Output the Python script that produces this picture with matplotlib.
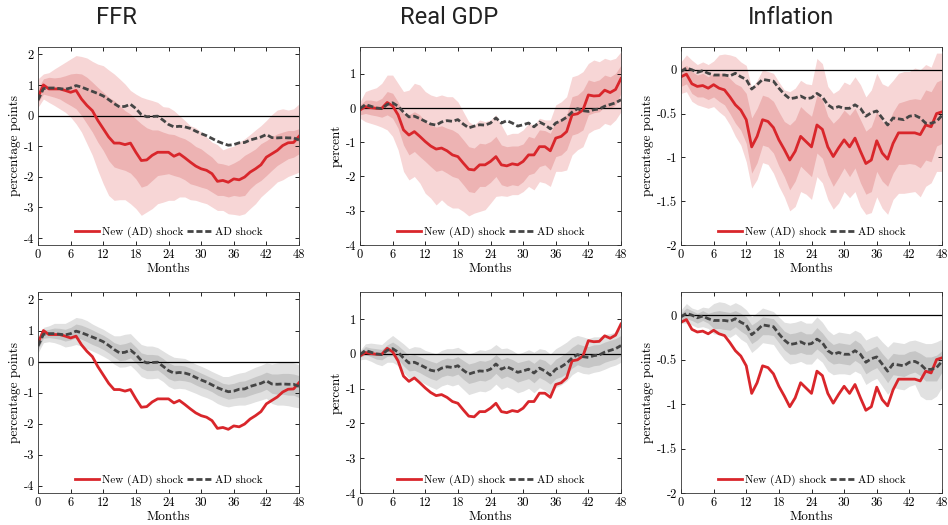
import numpy as np
import matplotlib
matplotlib.use("Agg")
import matplotlib.pyplot as plt
from matplotlib.ticker import FormatStrFormatter

plt.rcParams['font.family'] = ['cmr10', 'DejaVu Serif']
plt.rcParams['axes.unicode_minus'] = False
plt.rcParams['mathtext.fontset'] = 'cm'

months = np.arange(49)

# ---------------- FFR ----------------
ffr_new = [0.6, 1.0, 0.87, 0.87, 0.87, 0.82, 0.76, 0.82, 0.54, 0.33,
           0.16, -0.16, -0.43, -0.7, -0.9, -0.9, -0.95, -0.9, -1.2, -1.47,
           -1.45, -1.3, -1.2, -1.2, -1.2, -1.33, -1.25, -1.38, -1.52, -1.65,
           -1.74, -1.79, -1.9, -2.15, -2.12, -2.18, -2.07, -2.1, -2.01, -1.85,
           -1.74, -1.61, -1.36, -1.25, -1.14, -0.98, -0.89, -0.88, -0.68]
ffr_ad = [0.5, 0.88, 0.9, 0.9, 0.88, 0.86, 0.9, 0.98, 0.93, 0.86,
          0.79, 0.72, 0.64, 0.52, 0.39, 0.28, 0.3, 0.37, 0.23, 0.03,
          -0.04, -0.03, -0.02, -0.15, -0.29, -0.37, -0.35, -0.37, -0.42, -0.51,
          -0.59, -0.66, -0.75, -0.84, -0.91, -0.97, -0.95, -0.89, -0.88, -0.8,
          -0.75, -0.7, -0.62, -0.72, -0.73, -0.72, -0.73, -0.73, -0.8]
ffr_new_hi90 = [1.2, 1.36, 1.4, 1.52, 1.63, 1.74, 1.85, 1.96, 1.93, 1.88,
                1.77, 1.68, 1.63, 1.49, 1.36, 1.2, 1.03, 0.82, 0.7, 0.6,
                0.54, 0.49, 0.43, 0.29, 0.27, 0.16, 0.0, -0.16, -0.33, -0.4,
                -0.54, -0.7, -0.87, -0.95, -1.12, -1.05, -1.0, -0.87, -0.76, -0.62,
                -0.47, -0.33, -0.16, 0.03, 0.18, 0.22, 0.18, 0.22, 0.38]
ffr_new_hi68 = [0.9, 1.2, 1.25, 1.23, 1.25, 1.3, 1.36, 1.38, 1.36, 1.25,
                1.09, 0.92, 0.76, 0.6, 0.49, 0.33, 0.16, 0.05, -0.11, -0.27,
                -0.4, -0.47, -0.47, -0.54, -0.6, -0.62, -0.7, -0.76, -0.87, -1.01,
                -1.09, -1.23, -1.36, -1.55, -1.58, -1.63, -1.55, -1.45, -1.3, -1.2,
                -1.09, -0.92, -0.82, -0.7, -0.6, -0.54, -0.49, -0.49, -0.43]
ffr_new_lo68 = [0.43, 0.7, 0.65, 0.6, 0.54, 0.43, 0.33, 0.22, 0.0, -0.27,
                -0.54, -0.87, -1.14, -1.47, -1.68, -1.74, -1.79, -1.88, -2.07, -2.34,
                -2.28, -2.12, -1.96, -1.93, -1.9, -1.96, -2.01, -2.1, -2.23, -2.28,
                -2.34, -2.39, -2.5, -2.61, -2.61, -2.66, -2.61, -2.64, -2.61, -2.39,
                -2.23, -2.12, -1.96, -1.79, -1.63, -1.52, -1.41, -1.36, -1.25]
ffr_new_lo90 = [0.27, 0.54, 0.43, 0.33, 0.22, 0.11, -0.05, -0.27, -0.54, -0.92,
                -1.3, -1.79, -2.23, -2.61, -2.77, -2.75, -2.75, -2.88, -3.04, -3.26,
                -3.15, -3.04, -2.88, -2.83, -2.77, -2.77, -2.66, -2.66, -2.75, -2.77,
                -2.83, -2.88, -2.99, -3.1, -3.1, -3.21, -3.23, -3.26, -3.21, -3.04,
                -2.88, -2.66, -2.5, -2.34, -2.17, -2.1, -1.99, -1.92, -1.85]
ffr_ad_hi90 = [0.7, 1.1, 1.15, 1.23, 1.23, 1.23, 1.32, 1.42, 1.39, 1.32,
               1.21, 1.12, 1.04, 0.93, 0.83, 0.83, 0.88, 0.9, 0.72, 0.55,
               0.5, 0.5, 0.45, 0.34, 0.23, 0.14, 0.12, 0.1, 0.01, -0.08,
               -0.15, -0.23, -0.32, -0.4, -0.48, -0.48, -0.42, -0.37, -0.34, -0.26,
               -0.18, -0.12, -0.04, -0.08, -0.04, -0.01, -0.01, -0.04, -0.1]
ffr_ad_hi68 = [0.6, 1.01, 1.04, 1.08, 1.07, 1.04, 1.1, 1.21, 1.17, 1.1,
               1.02, 0.93, 0.85, 0.74, 0.61, 0.55, 0.58, 0.64, 0.47, 0.28,
               0.23, 0.23, 0.21, 0.1, -0.04, -0.12, -0.12, -0.14, -0.21, -0.29,
               -0.37, -0.45, -0.53, -0.61, -0.7, -0.73, -0.7, -0.64, -0.62, -0.55,
               -0.48, -0.42, -0.34, -0.4, -0.4, -0.38, -0.38, -0.4, -0.45]
ffr_ad_lo68 = [0.39, 0.75, 0.77, 0.75, 0.72, 0.66, 0.7, 0.77, 0.72, 0.64,
               0.55, 0.48, 0.39, 0.28, 0.15, 0.03, 0.05, 0.12, -0.04, -0.21,
               -0.29, -0.29, -0.27, -0.4, -0.55, -0.62, -0.6, -0.62, -0.66, -0.75,
               -0.83, -0.89, -0.97, -1.08, -1.15, -1.21, -1.18, -1.15, -1.14, -1.08,
               -1.02, -0.97, -0.89, -1.02, -1.05, -1.05, -1.08, -1.08, -1.16]
ffr_ad_lo90 = [0.28, 0.61, 0.64, 0.61, 0.55, 0.47, 0.5, 0.55, 0.5, 0.42,
               0.34, 0.26, 0.17, 0.07, -0.08, -0.18, -0.17, -0.12, -0.29, -0.48,
               -0.55, -0.55, -0.53, -0.64, -0.8, -0.88, -0.86, -0.88, -0.95, -1.02,
               -1.1, -1.16, -1.24, -1.35, -1.42, -1.46, -1.42, -1.4, -1.4, -1.35,
               -1.29, -1.24, -1.18, -1.35, -1.4, -1.4, -1.42, -1.46, -1.49]

# ---------------- Real GDP ----------------
gdp_new = [-0.06, 0.04, 0.01, -0.01, -0.01, 0.16, 0.06, -0.2, -0.64, -0.79,
           -0.69, -0.83, -0.98, -1.11, -1.2, -1.17, -1.25, -1.37, -1.42, -1.61,
           -1.79, -1.81, -1.66, -1.66, -1.56, -1.42, -1.66, -1.69, -1.63, -1.66,
           -1.56, -1.37, -1.37, -1.13, -1.13, -1.25, -0.88, -0.83, -0.69, -0.2,
           -0.17, -0.06, 0.38, 0.35, 0.36, 0.52, 0.45, 0.54, 0.86]
gdp_ad = [-0.02, 0.1, 0.05, 0.0, -0.02, 0.1, 0.15, 0.05, -0.12, -0.26,
          -0.24, -0.31, -0.39, -0.47, -0.5, -0.41, -0.37, -0.39, -0.34, -0.47,
          -0.58, -0.53, -0.49, -0.5, -0.44, -0.29, -0.44, -0.37, -0.44, -0.53,
          -0.49, -0.44, -0.55, -0.41, -0.49, -0.61, -0.44, -0.37, -0.27, -0.12,
          -0.02, -0.08, -0.1, -0.05, -0.03, 0.05, 0.1, 0.15, 0.24]
gdp_new_hi90 = [0.18, 0.48, 0.54, 0.59, 0.72, 0.96, 0.96, 0.72, 0.48, 0.52,
                0.72, 0.67, 0.48, 0.38, 0.33, 0.38, 0.33, 0.33, 0.18, -0.11,
                -0.4, -0.5, -0.35, -0.4, -0.35, -0.2, -0.5, -0.79, -0.74, -0.74,
                -0.64, -0.45, -0.5, -0.3, -0.35, -0.35, 0.09, 0.18, 0.33, 0.91,
                0.96, 1.06, 1.3, 1.4, 1.35, 1.45, 1.4, 1.45, 1.64]
gdp_new_hi68 = [0.09, 0.23, 0.23, 0.2, 0.28, 0.48, 0.43, 0.18, -0.16, -0.2,
                -0.11, -0.2, -0.4, -0.5, -0.56, -0.52, -0.59, -0.64, -0.74, -0.93,
                -1.13, -1.17, -1.03, -1.05, -0.98, -0.83, -1.08, -1.13, -1.11, -1.11,
                -1.05, -0.83, -0.88, -0.64, -0.66, -0.74, -0.4, -0.33, -0.2, 0.33,
                0.38, 0.52, 0.82, 0.77, 0.82, 0.96, 0.91, 1.01, 1.25]
gdp_new_lo68 = [-0.2, -0.16, -0.2, -0.23, -0.27, -0.2, -0.3, -0.59, -1.08, -1.37,
                -1.27, -1.42, -1.56, -1.71, -1.85, -1.81, -1.9, -2.0, -2.05, -2.24,
                -2.44, -2.47, -2.29, -2.29, -2.17, -2.0, -2.24, -2.29, -2.24, -2.27,
                -2.15, -1.95, -1.9, -1.71, -1.66, -1.81, -1.42, -1.37, -1.22, -0.79,
                -0.74, -0.64, -0.2, -0.14, -0.11, 0.04, -0.01, 0.09, 0.43]
gdp_new_lo90 = [-0.3, -0.4, -0.45, -0.5, -0.56, -0.64, -0.83, -1.22, -1.85, -2.1,
                -2.0, -2.19, -2.49, -2.63, -2.83, -2.68, -2.83, -2.92, -2.92, -3.02,
                -3.15, -3.07, -3.02, -2.97, -2.78, -2.58, -2.56, -2.58, -2.53, -2.53,
                -2.44, -2.29, -2.39, -2.15, -2.19, -2.29, -1.85, -1.85, -1.81, -1.37,
                -1.22, -1.13, -0.74, -0.64, -0.59, -0.45, -0.5, -0.35, -0.11]
gdp_ad_hi90 = [0.1, 0.29, 0.31, 0.29, 0.27, 0.41, 0.53, 0.41, 0.29, 0.15,
               0.21, 0.19, 0.1, 0.05, 0.0, 0.1, 0.15, 0.15, 0.19, 0.1,
               0.0, 0.05, 0.12, 0.1, 0.15, 0.27, 0.15, 0.17, 0.1, 0.0,
               0.05, 0.12, 0.05, 0.15, 0.12, 0.0, 0.15, 0.24, 0.34, 0.47,
               0.53, 0.49, 0.44, 0.49, 0.49, 0.56, 0.58, 0.63, 0.73]
gdp_ad_hi68 = [0.05, 0.21, 0.17, 0.15, 0.13, 0.26, 0.34, 0.24, 0.1, -0.05,
               -0.02, -0.08, -0.15, -0.21, -0.26, -0.17, -0.12, -0.14, -0.08, -0.19,
               -0.29, -0.25, -0.19, -0.21, -0.16, -0.02, -0.16, -0.1, -0.16, -0.25,
               -0.21, -0.17, -0.27, -0.14, -0.19, -0.32, -0.15, -0.06, 0.05, 0.19,
               0.29, 0.24, 0.21, 0.26, 0.27, 0.34, 0.39, 0.44, 0.53]
gdp_ad_lo68 = [-0.1, -0.02, -0.08, -0.15, -0.17, -0.07, -0.05, -0.15, -0.34, -0.49,
               -0.47, -0.54, -0.63, -0.71, -0.76, -0.66, -0.61, -0.64, -0.58, -0.73,
               -0.85, -0.81, -0.76, -0.78, -0.71, -0.56, -0.71, -0.64, -0.71, -0.81,
               -0.76, -0.71, -0.83, -0.68, -0.76, -0.87, -0.71, -0.66, -0.56, -0.41,
               -0.31, -0.37, -0.39, -0.34, -0.32, -0.24, -0.19, -0.15, -0.05]
gdp_ad_lo90 = [-0.17, -0.15, -0.21, -0.29, -0.34, -0.24, -0.24, -0.34, -0.53, -0.7,
               -0.68, -0.78, -0.87, -0.95, -1.02, -0.92, -0.87, -0.92, -0.87, -1.02,
               -1.17, -1.12, -1.07, -1.09, -1.02, -0.87, -1.02, -0.95, -1.02, -1.12,
               -1.07, -0.99, -1.12, -0.97, -1.05, -1.17, -0.97, -0.89, -0.78, -0.6,
               -0.5, -0.56, -0.58, -0.53, -0.5, -0.44, -0.37, -0.32, -0.24]

# ---------------- Inflation ----------------
inf_new = [-0.08, -0.05, -0.16, -0.19, -0.18, -0.21, -0.17, -0.21, -0.23, -0.31,
           -0.4, -0.46, -0.57, -0.88, -0.76, -0.57, -0.59, -0.66, -0.8, -0.91,
           -1.03, -0.93, -0.76, -0.82, -0.88, -0.63, -0.68, -0.88, -0.99, -0.89,
           -0.8, -0.88, -0.78, -0.93, -1.07, -1.03, -0.81, -0.95, -1.02, -0.84,
           -0.72, -0.72, -0.72, -0.72, -0.74, -0.63, -0.65, -0.5, -0.48]
inf_ad = [-0.02, 0.02, 0.0, -0.03, -0.01, -0.04, -0.06, -0.06, -0.06, -0.07,
          -0.04, -0.08, -0.11, -0.22, -0.17, -0.11, -0.12, -0.13, -0.21, -0.28,
          -0.33, -0.32, -0.3, -0.33, -0.32, -0.27, -0.31, -0.4, -0.44, -0.42,
          -0.44, -0.44, -0.4, -0.44, -0.53, -0.49, -0.47, -0.55, -0.63, -0.55,
          -0.56, -0.57, -0.53, -0.52, -0.55, -0.61, -0.61, -0.59, -0.52]
inf_new_hi90 = [0.09, 0.17, 0.11, 0.06, 0.09, 0.06, 0.1, 0.17, 0.18, 0.17,
                0.15, 0.09, 0.05, -0.21, -0.12, 0.0, -0.02, -0.04, -0.14, -0.23,
                -0.25, -0.21, -0.12, -0.16, -0.17, 0.13, 0.07, -0.19, -0.27, -0.23,
                -0.14, -0.17, -0.08, -0.17, -0.31, -0.23, -0.04, -0.16, -0.19, -0.12,
                -0.04, -0.02, -0.02, 0.02, 0.0, 0.06, 0.03, 0.19, 0.19]
inf_new_hi68 = [0.02, 0.05, -0.02, -0.06, -0.04, -0.08, -0.04, -0.04, -0.04, -0.1,
                -0.16, -0.19, -0.27, -0.55, -0.44, -0.29, -0.31, -0.36, -0.48, -0.59,
                -0.63, -0.57, -0.42, -0.48, -0.53, -0.29, -0.34, -0.53, -0.61, -0.55,
                -0.46, -0.52, -0.44, -0.57, -0.7, -0.65, -0.48, -0.59, -0.63, -0.48,
                -0.38, -0.36, -0.34, -0.33, -0.34, -0.23, -0.25, -0.14, -0.11]
inf_new_lo68 = [-0.19, -0.16, -0.27, -0.31, -0.31, -0.34, -0.31, -0.36, -0.4, -0.5,
                -0.61, -0.69, -0.84, -1.18, -1.06, -0.86, -0.88, -0.95, -1.1, -1.22,
                -1.37, -1.27, -1.1, -1.16, -1.22, -0.95, -1.01, -1.2, -1.33, -1.23,
                -1.12, -1.22, -1.12, -1.29, -1.42, -1.39, -1.16, -1.27, -1.33, -1.18,
                -1.08, -1.08, -1.07, -1.08, -1.12, -1.03, -1.05, -0.87, -0.84]
inf_new_lo90 = [-0.27, -0.25, -0.36, -0.4, -0.42, -0.44, -0.42, -0.48, -0.53, -0.63,
                -0.76, -0.86, -1.05, -1.35, -1.25, -1.06, -1.08, -1.18, -1.33, -1.45,
                -1.61, -1.56, -1.39, -1.42, -1.48, -1.22, -1.29, -1.48, -1.59, -1.52,
                -1.39, -1.46, -1.39, -1.56, -1.65, -1.63, -1.45, -1.58, -1.65, -1.48,
                -1.41, -1.41, -1.4, -1.39, -1.45, -1.33, -1.29, -1.16, -1.16]
inf_ad_hi90 = [0.06, 0.13, 0.08, 0.06, 0.09, 0.08, 0.13, 0.15, 0.14, 0.11,
               0.14, 0.11, 0.06, -0.02, 0.03, 0.08, 0.06, 0.04, -0.02, -0.08,
               -0.09, -0.08, -0.06, -0.09, -0.09, -0.02, -0.08, -0.17, -0.22, -0.19,
               -0.2, -0.21, -0.17, -0.2, -0.28, -0.25, -0.23, -0.3, -0.36, -0.3,
               -0.31, -0.32, -0.29, -0.28, -0.3, -0.32, -0.32, -0.3, -0.27]
inf_ad_hi68 = [0.02, 0.08, 0.05, 0.02, 0.05, 0.02, 0.04, 0.05, 0.04, 0.03,
               0.05, 0.02, -0.02, -0.11, -0.07, -0.02, -0.03, -0.04, -0.11, -0.18,
               -0.21, -0.2, -0.18, -0.21, -0.21, -0.14, -0.2, -0.28, -0.33, -0.31,
               -0.32, -0.33, -0.28, -0.32, -0.41, -0.38, -0.35, -0.43, -0.5, -0.43,
               -0.44, -0.44, -0.41, -0.4, -0.43, -0.47, -0.47, -0.45, -0.4]
inf_ad_lo68 = [-0.06, -0.04, -0.06, -0.09, -0.06, -0.09, -0.15, -0.15, -0.16, -0.17,
               -0.13, -0.18, -0.22, -0.32, -0.28, -0.22, -0.22, -0.23, -0.31, -0.39,
               -0.44, -0.44, -0.42, -0.44, -0.44, -0.38, -0.43, -0.51, -0.55, -0.54,
               -0.55, -0.56, -0.51, -0.55, -0.66, -0.62, -0.59, -0.67, -0.76, -0.67,
               -0.68, -0.69, -0.66, -0.64, -0.68, -0.74, -0.74, -0.74, -0.64]
inf_ad_lo90 = [-0.09, -0.09, -0.11, -0.14, -0.13, -0.15, -0.21, -0.22, -0.23, -0.25,
               -0.21, -0.27, -0.31, -0.42, -0.37, -0.31, -0.32, -0.33, -0.42, -0.5,
               -0.55, -0.54, -0.52, -0.55, -0.55, -0.48, -0.53, -0.63, -0.67, -0.66,
               -0.66, -0.67, -0.63, -0.66, -0.78, -0.74, -0.71, -0.8, -0.89, -0.81,
               -0.83, -0.84, -0.8, -0.78, -0.91, -0.95, -0.95, -0.91, -0.81]

titles = ['FFR', 'Real GDP', 'Inflation']
ylabels = ['percentage points', 'percent', 'percentage points']
yticks = [[-4, -3, -2, -1, 0, 1, 2], [-4, -3, -2, -1, 0, 1], [-2, -1.5, -1, -0.5, 0]]
ylims = [(-4.23, 2.24), (-4, 1.78), (-2, 0.26)]
xticks = [0, 6, 12, 18, 24, 30, 36, 42, 48]

series = [
    (ffr_new, ffr_ad, (ffr_new_lo90, ffr_new_hi90, ffr_new_lo68, ffr_new_hi68),
     (ffr_ad_lo90, ffr_ad_hi90, ffr_ad_lo68, ffr_ad_hi68)),
    (gdp_new, gdp_ad, (gdp_new_lo90, gdp_new_hi90, gdp_new_lo68, gdp_new_hi68),
     (gdp_ad_lo90, gdp_ad_hi90, gdp_ad_lo68, gdp_ad_hi68)),
    (inf_new, inf_ad, (inf_new_lo90, inf_new_hi90, inf_new_lo68, inf_new_hi68),
     (inf_ad_lo90, inf_ad_hi90, inf_ad_lo68, inf_ad_hi68)),
]

red = '#d9262b'
dark = '#454545'
band_cols = {'new': ('#f7d6d6', '#edb3b3'), 'ad': ('#e1e1e1', '#c6c6c6')}

fig = plt.figure(figsize=(9.48, 5.25), dpi=100)
lefts = [38 / 948, 360 / 948, 681 / 948]
width = 261 / 948
rows = [(1 - 245 / 525, 198 / 525), (1 - 493 / 525, 201 / 525)]

for r, (bot, h) in enumerate(rows):
    for c in range(3):
        ax = fig.add_axes([lefts[c], bot, width, h])
        new, ad, nb, ab = series[c]
        bands = nb if r == 0 else ab
        cols = band_cols['new'] if r == 0 else band_cols['ad']
        ax.fill_between(months, bands[0], bands[1], color=cols[0], lw=0)
        ax.fill_between(months, bands[2], bands[3], color=cols[1], lw=0)
        ax.axhline(0, color='black', lw=0.9)
        ax.plot(months, new, color=red, lw=2.0, label='New (AD) shock')
        ax.plot(months, ad, color=dark, lw=2.0, dashes=(2.2, 1.0), label='AD shock')
        ax.set_xlim(0, 48)
        ax.set_ylim(*ylims[c])
        ax.set_xticks(xticks)
        ax.set_yticks(yticks[c])
        ax.yaxis.set_major_formatter(FormatStrFormatter('%g'))
        ax.tick_params(direction='in', length=3, width=0.6, labelsize=9,
                       top=True, right=True, pad=3)
        for s in ax.spines.values():
            s.set_linewidth(0.6)
            s.set_color('#333333')
        ax.set_xlabel('Months', fontsize=9.5, labelpad=1)
        ax.set_ylabel(ylabels[c], fontsize=9.5, labelpad=2)
        ax.legend(loc='lower center', ncol=2, frameon=False, fontsize=8,
                  handlelength=2.2, handletextpad=0.3, columnspacing=0.3,
                  borderaxespad=0.2)

# titles sit a bit left of each panel's centre
title_x = [116 / 948, 449 / 948, 791 / 948]
for c in range(3):
    fig.text(title_x[c], 1 - 18 / 525, titles[c], ha='center', va='center',
             fontsize=17, family='Roboto', color='#222222')

fig.savefig('out.png', dpi=100)
